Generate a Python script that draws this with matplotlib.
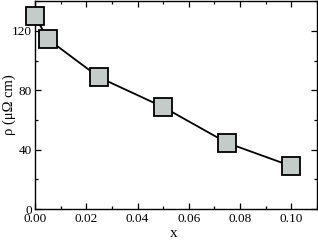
import matplotlib
matplotlib.use("Agg")
import matplotlib.pyplot as plt
from matplotlib.ticker import MultipleLocator

plt.rcParams["font.family"] = ["Liberation Serif", "DejaVu Serif"]

x_vals = [0.0, 0.005, 0.025, 0.05, 0.075, 0.1]
rho_vals = [130.0, 114.5, 88.7, 68.7, 44.5, 28.9]


def main() -> None:
    fig = plt.figure(figsize=(3.18, 2.40), dpi=100)
    ax = fig.add_axes([0.110, 0.129, 0.887, 0.866])

    ax.plot(x_vals, rho_vals, color="black", linewidth=1.3, zorder=2)
    ax.plot(
        x_vals,
        rho_vals,
        linestyle="none",
        marker="s",
        markersize=13,
        markerfacecolor="#c5cbc9",
        markeredgecolor="black",
        markeredgewidth=1.3,
        clip_on=False,
        zorder=3,
    )

    ax.set_xlim(0, 0.11)
    ax.set_ylim(0, 140)
    ax.xaxis.set_major_locator(MultipleLocator(0.02))
    ax.xaxis.set_minor_locator(MultipleLocator(0.01))
    ax.yaxis.set_major_locator(MultipleLocator(40))
    ax.yaxis.set_minor_locator(MultipleLocator(20))
    ax.xaxis.set_major_formatter(plt.FuncFormatter(lambda v, p: f"{v:.2f}"))

    ax.tick_params(which="both", direction="in", top=True, right=True,
                   labelsize=9.5, width=0.9)
    ax.tick_params(axis="x", pad=3)
    ax.tick_params(axis="y", pad=2)
    ax.tick_params(which="major", length=4)
    ax.tick_params(which="minor", length=2.5)
    for sp in ax.spines.values():
        sp.set_linewidth(1.0)

    ax.set_xlabel("x", fontsize=11)
    ax.xaxis.set_label_coords(0.493, -0.088)
    ax.set_ylabel("ρ (μΩ cm)", fontsize=10.5)
    ax.yaxis.set_label_coords(-0.067, 0.5)

    fig.savefig("out.png", dpi=100)
    plt.close(fig)


if __name__ == "__main__":
    main()
